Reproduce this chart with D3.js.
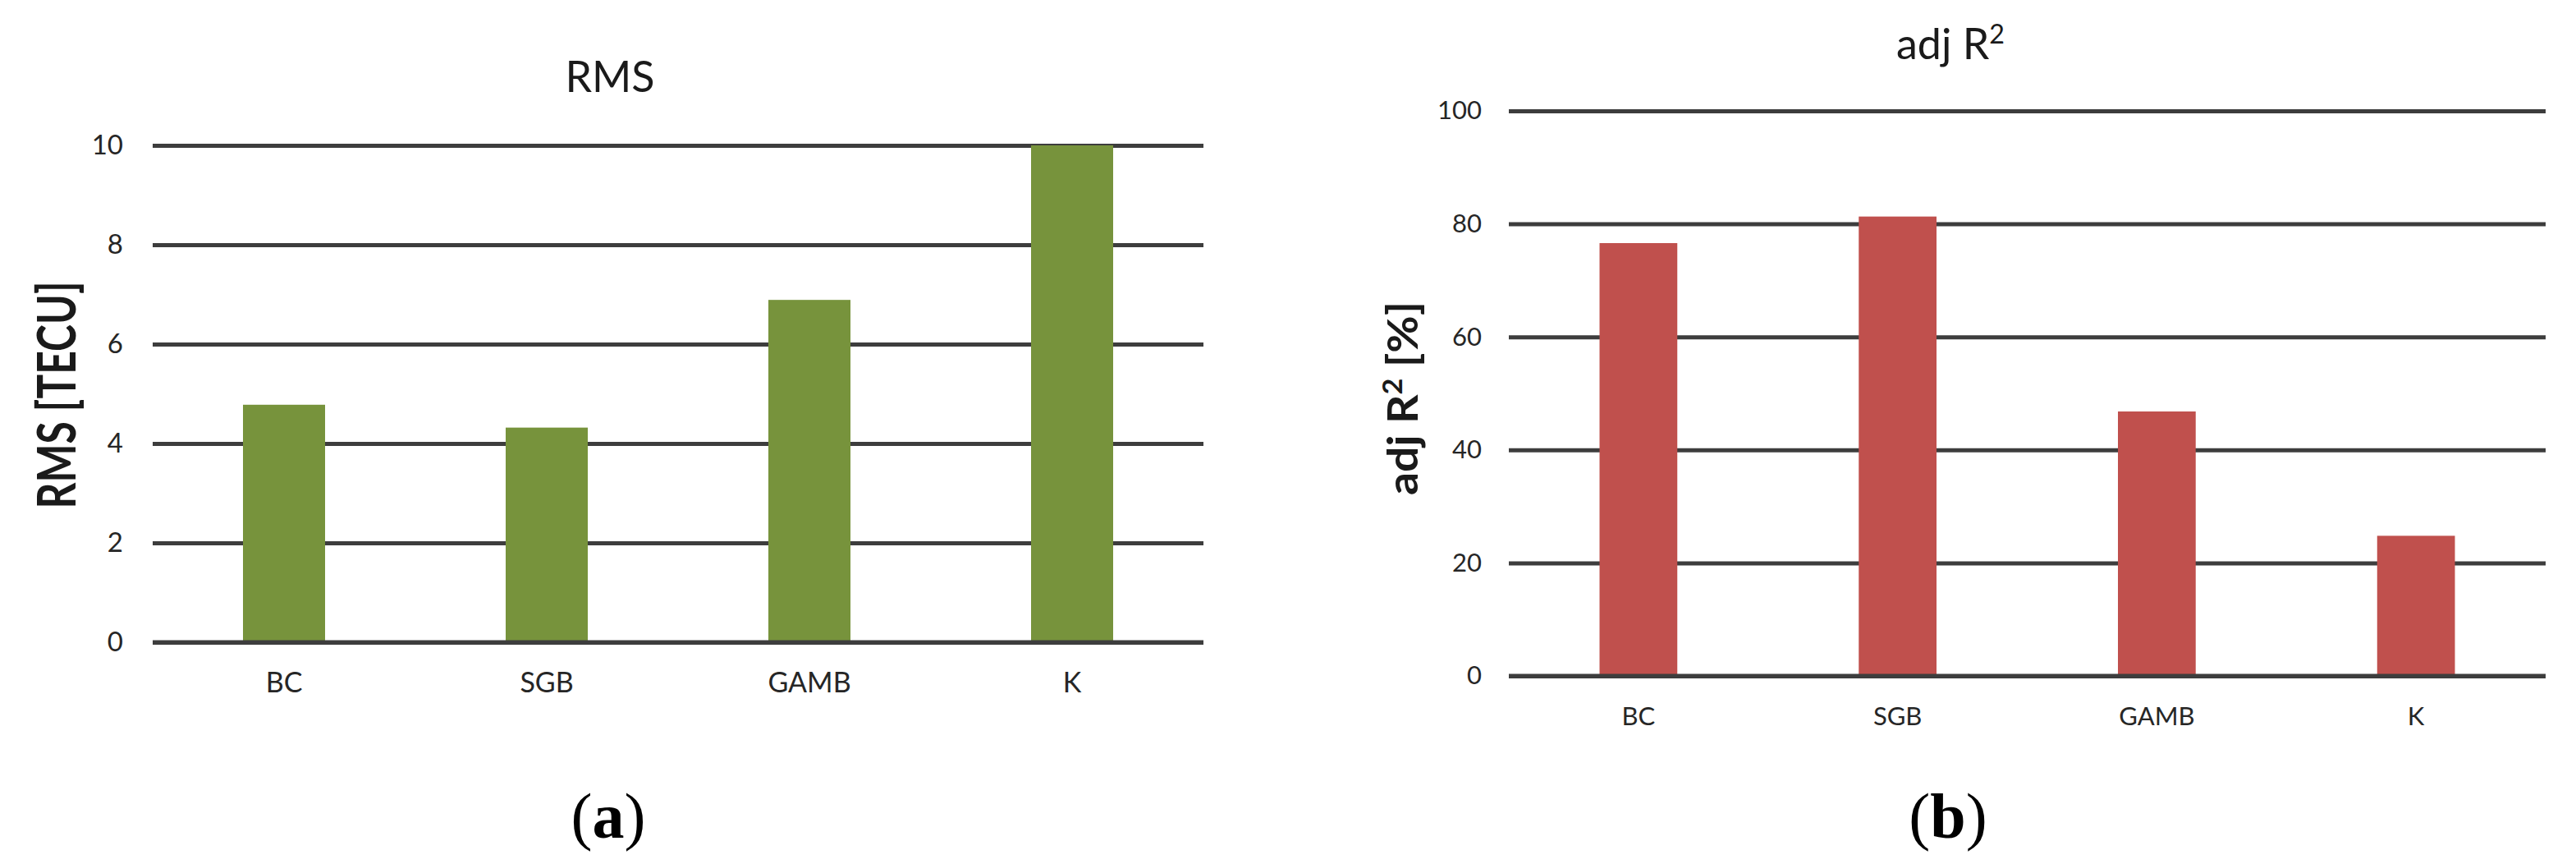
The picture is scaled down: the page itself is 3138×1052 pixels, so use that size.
<!DOCTYPE html>
<html>
<head>
<meta charset="utf-8">
<script src="https://cdn.jsdelivr.net/npm/d3@7/dist/d3.min.js"></script>
<style>
  html, body { margin: 0; padding: 0; background: #ffffff; }
  svg { display: block; }
</style>
</head>
<body>
<svg id="chart" width="3138" height="1052"></svg>
<script>
// ---------- data ----------
const categories = ["BC", "SGB", "GAMB", "K"];
const rmsValues = [4.78, 4.32, 6.89, 10.0];
const adjR2Values = [76.6, 81.3, 46.8, 24.8];
const rmsTicks = [0, 2, 4, 6, 8, 10];
const adjR2Ticks = [0, 20, 40, 60, 80, 100];
// titles: [main text, superscript, trailing text]
const panelTitles = [["RMS", "", ""], ["adj R", "2", ""]];
const yAxisTitles = [["RMS [TECU]", "", ""], ["adj R", "2", " [%]"]];
const panelLetters = ["a", "b"];

// ---------- layout ----------
const svg = d3.select("#chart");
const FONT = "Lato, 'Open Sans', 'DejaVu Sans', sans-serif";

const panels = [
  {
    values: rmsValues, ticks: rmsTicks, domain: [0, 10],
    x0: 186, x1: 1466, y0: 782, y1: 177,
    inner: 0.6875, outer: 0.34375,
    color: "#77933C",
    tickFont: 33, tickRight: 150, catBaseline: 843, catFont: 34,
    title: panelTitles[0], titleX: 743, titleY: 112, titleFont: 52,
    yTitle: yAxisTitles[0], yTitleX: 92, yTitleY: 481, yTitleFont: 65, yTitleLen: 277,
    letter: panelLetters[0], letterX: 741
  },
  {
    values: adjR2Values, ticks: adjR2Ticks, domain: [0, 100],
    x0: 1838, x1: 3101, y0: 823, y1: 135,
    inner: 0.70, outer: 0.35,
    color: "#C0504D",
    tickFont: 31, tickRight: 1805, catBaseline: 883, catFont: 31,
    title: panelTitles[1], titleX: 2376, titleY: 72, titleFont: 52,
    yTitle: yAxisTitles[1], yTitleX: 1727, yTitleY: 485, yTitleFont: 52, yTitleLen: 236,
    letter: panelLetters[1], letterX: 2373
  }
];

function addRichText(sel, parts) {
  sel.append("tspan").text(parts[0]);
  if (parts[1]) {
    sel.append("tspan")
      .attr("font-size", "0.62em")
      .attr("baseline-shift", "60%")
      .text(parts[1]);
  }
  if (parts[2]) sel.append("tspan").text(parts[2]);
}

panels.forEach(p => {
  const g = svg.append("g");

  const x = d3.scaleBand()
    .domain(categories)
    .range([p.x0, p.x1])
    .paddingInner(p.inner)
    .paddingOuter(p.outer);

  const y = d3.scaleLinear()
    .domain(p.domain)
    .range([p.y0, p.y1]);

  // gridlines + tick labels (behind bars)
  const yAxis = d3.axisLeft(y)
    .tickValues(p.ticks)
    .tickSize(-(p.x1 - p.x0))
    .tickPadding(p.x0 - p.tickRight)
    .tickFormat(d3.format("d"));

  const ga = g.append("g")
    .attr("transform", `translate(${p.x0},0)`)
    .call(yAxis);
  ga.select(".domain").remove();
  ga.selectAll(".tick line")
    .attr("stroke", "#3d3d3d")
    .attr("stroke-width", 5);
  ga.selectAll(".tick text")
    .attr("font-family", FONT)
    .attr("font-size", p.tickFont)
    .attr("fill", "#262626");

  // bars
  g.append("g")
    .selectAll("rect")
    .data(categories.map((c, i) => ({ c, v: p.values[i] })))
    .join("rect")
    .attr("x", d => x(d.c))
    .attr("width", x.bandwidth())
    .attr("y", d => y(d.v))
    .attr("height", d => y(0) - y(d.v))
    .attr("fill", p.color);

  // baseline on top of bars
  g.append("line")
    .attr("x1", p.x0).attr("x2", p.x1)
    .attr("y1", y(0)).attr("y2", y(0))
    .attr("stroke", "#3d3d3d")
    .attr("stroke-width", 5);

  // category labels
  const xAxis = d3.axisBottom(x).tickSize(0).tickPadding(0);
  const gx = g.append("g")
    .attr("transform", `translate(0,${p.catBaseline})`)
    .call(xAxis);
  gx.select(".domain").remove();
  gx.selectAll(".tick text")
    .attr("dy", 0)
    .attr("y", 0)
    .attr("font-family", FONT)
    .attr("font-size", p.catFont)
    .attr("fill", "#262626");

  // title
  const t = g.append("text")
    .attr("x", p.titleX)
    .attr("y", p.titleY)
    .attr("text-anchor", "middle")
    .attr("font-family", FONT)
    .attr("font-size", p.titleFont)
    .attr("fill", "#1a1a1a");
  addRichText(t, p.title);

  // y axis title
  const yt = g.append("text")
    .attr("transform", `translate(${p.yTitleX},${p.yTitleY}) rotate(-90)`)
    .attr("text-anchor", "middle")
    .attr("font-family", FONT)
    .attr("font-weight", "bold")
    .attr("font-size", p.yTitleFont)
    .attr("textLength", p.yTitleLen)
    .attr("lengthAdjust", "spacingAndGlyphs")
    .attr("fill", "#1a1a1a");
  addRichText(yt, p.yTitle);

  // panel letter
  const lt = g.append("text")
    .attr("x", p.letterX)
    .attr("y", 1020)
    .attr("text-anchor", "middle")
    .attr("font-family", "'Liberation Serif', 'Times New Roman', serif")
    .attr("font-size", 78)
    .attr("fill", "#000");
  lt.append("tspan").text("(");
  lt.append("tspan").attr("font-weight", "bold").text(p.letter);
  lt.append("tspan").text(")");
});
</script>
</body>
</html>
